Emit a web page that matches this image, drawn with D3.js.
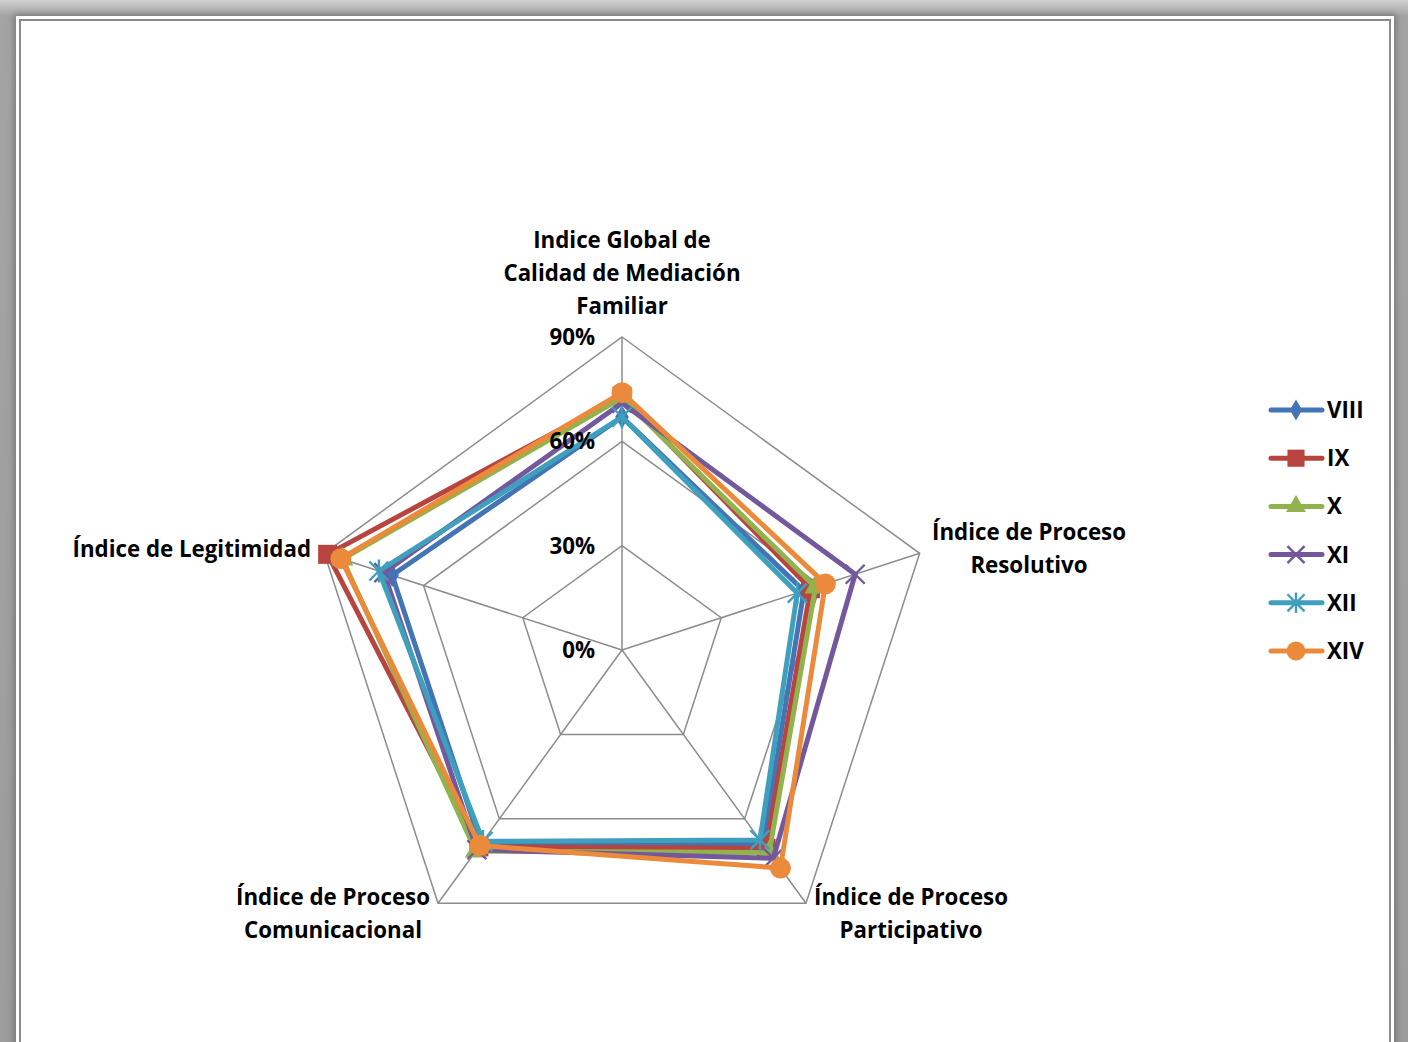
<!DOCTYPE html>
<html>
<head>
<meta charset="utf-8">
<script src="https://cdn.jsdelivr.net/npm/d3@7"></script>
<style>
  html, body { margin: 0; padding: 0; }
  body {
    width: 1408px; height: 1042px; overflow: hidden;
    background: linear-gradient(#d0d0d0, #a4a4a4 16px, #9c9c9c);
    position: relative;
  }
  #frame {
    position: absolute; left: 16px; top: 16px; width: 1378px; height: 1040px;
    background: #fff;
    box-shadow: 0 0 6px 2px rgba(80,80,80,0.5);
  }
  #panel {
    position: absolute; left: 3px; top: 3px; width: 1372px; height: 1040px;
    border: 2px solid #8a8a8a; box-sizing: border-box; background: #fff;
  }
  svg { position: absolute; left: 0; top: 0; }
</style>
</head>
<body>
<div id="frame"><div id="panel"></div></div>
<svg id="chart" width="1408" height="1042"></svg>
<script>
// Axes of the radar, clockwise from the top
const axes = [
  ["Indice Global de", "Calidad de Mediación", "Familiar"],
  ["Índice de Proceso", "Resolutivo"],
  ["Índice de Proceso", "Participativo"],
  ["Índice de Proceso", "Comunicacional"],
  ["Índice de Legitimidad"]
];
const seriesNames = ["VIII", "IX", "X", "XI", "XII", "XIV"];
// Percent values per axis, same order as the axes
const vVIII = [67, 55, 69, 69, 69.5];
const vIX   = [73, 57, 70.5, 70, 89];
const vX    = [72.5, 58.5, 72, 71.5, 84.5];
const vXI   = [71, 70.5, 74, 71, 72];
const vXII  = [67, 53, 67.5, 68, 73.5];
const vXIV  = [74, 61.5, 77.5, 69.5, 85];
const tickValues = [0, 30, 60, 90];
const tickLabels = ["0%", "30%", "60%", "90%"];

const seriesValues = [vVIII, vIX, vX, vXI, vXII, vXIV];
const colors = ["#4274B6", "#B9443F", "#91B24C", "#73589D", "#3FA0BE", "#EC8A3C"];
const shapes = ["diamond", "square", "triangle", "x", "star", "circle"];

const svg = d3.select("#chart");
const cx = 622, cy = 650;
const r = d3.scaleLinear().domain([0, 90]).range([0, 313]);
const angle = d3.scaleLinear().domain([0, axes.length]).range([0, 2 * Math.PI]);
function pt(i, v) {
  const a = angle(i) - Math.PI / 2;
  return [cx + r(v) * Math.cos(a), cy + r(v) * Math.sin(a)];
}
const font = "'Open Sans', 'Liberation Sans', sans-serif";
const fs = 22.3;

// grid
const grid = svg.append("g");
tickValues.forEach(t => {
  grid.append("polygon")
    .attr("points", axes.map((_, i) => pt(i, t).join(",")).join(" "))
    .attr("fill", "none").attr("stroke", "#8c8c8c").attr("stroke-width", 1.5);
});
axes.forEach((_, i) => {
  const [x, y] = pt(i, 90);
  grid.append("line").attr("x1", cx).attr("y1", cy).attr("x2", x).attr("y2", y)
    .attr("stroke", "#8c8c8c").attr("stroke-width", 1.5);
});

// category labels
const labelPos = [
  {x: 622, y: 248, anchor: "middle"},
  {x: 1029, y: 540, anchor: "middle"},
  {x: 911, y: 905, anchor: "middle"},
  {x: 333, y: 905, anchor: "middle"},
  {x: 311, y: 557, anchor: "end"}
];
axes.forEach((lines, i) => {
  const p = labelPos[i];
  const t = svg.append("text").attr("font-family", font).attr("font-weight", 700)
    .attr("font-size", fs).attr("fill", "#000").attr("text-anchor", p.anchor);
  lines.forEach((s, j) => t.append("tspan").attr("x", p.x).attr("y", p.y + j * 33).text(s));
});

function marker(g, shape, x, y, c, s) {
  const k = s || 1;
  if (shape === "diamond") {
    g.append("path").attr("d", d3.symbol(d3.symbolDiamond, 160 * k * k)()).attr("transform", `translate(${x},${y})`).attr("fill", c);
  } else if (shape === "square") {
    g.append("rect").attr("x", x - 9.5 * k).attr("y", y - 9.5 * k).attr("width", 19 * k).attr("height", 19 * k).attr("fill", c);
  } else if (shape === "triangle") {
    g.append("path").attr("d", d3.symbol(d3.symbolTriangle, 210 * k * k)()).attr("transform", `translate(${x},${y})`).attr("fill", c);
  } else if (shape === "x") {
    const d = 9.5 * k;
    g.append("path").attr("d", `M${x - d},${y - d}L${x + d},${y + d}M${x - d},${y + d}L${x + d},${y - d}`)
      .attr("stroke", c).attr("stroke-width", 2.4);
  } else if (shape === "star") {
    const d = 9.5 * k;
    g.append("path").attr("d", `M${x - d},${y - d}L${x + d},${y + d}M${x - d},${y + d}L${x + d},${y - d}M${x},${y - d * 1.2}L${x},${y + d * 1.2}`)
      .attr("stroke", c).attr("stroke-width", 2.4);
  } else {
    g.append("circle").attr("cx", x).attr("cy", y).attr("r", 10.5 * k).attr("fill", c);
  }
}

// series
const line = d3.line().curve(d3.curveLinearClosed);
seriesValues.forEach((vals, s) => {
  const g = svg.append("g");
  const pts = vals.map((v, i) => pt(i, v));
  g.append("path").attr("d", line(pts)).attr("fill", "none")
    .attr("stroke", colors[s]).attr("stroke-width", 5).attr("stroke-linejoin", "round");
  pts.forEach(p => marker(g, shapes[s], p[0], p[1], colors[s]));
});

// tick labels sit on top of the series
tickValues.forEach((t, k) => {
  svg.append("text").attr("x", 595).attr("y", cy - r(t) + 8)
    .attr("text-anchor", "end").attr("font-family", font).attr("font-weight", 700)
    .attr("font-size", fs).attr("fill", "#000").text(tickLabels[k]);
});

// legend
const legendY = d3.scalePoint().domain(seriesNames).range([410, 651]);
seriesNames.forEach((n, s) => {
  const y = legendY(n);
  const g = svg.append("g");
  g.append("line").attr("x1", 1271).attr("x2", 1322).attr("y1", y).attr("y2", y)
    .attr("stroke", colors[s]).attr("stroke-width", 5).attr("stroke-linecap", "round");
  marker(g, shapes[s], 1296, y, colors[s], 0.9);
  g.append("text").attr("x", 1327).attr("y", y + 8).attr("font-family", font)
    .attr("font-weight", 700).attr("font-size", fs).attr("fill", "#000").text(n);
});
</script>
</body>
</html>
